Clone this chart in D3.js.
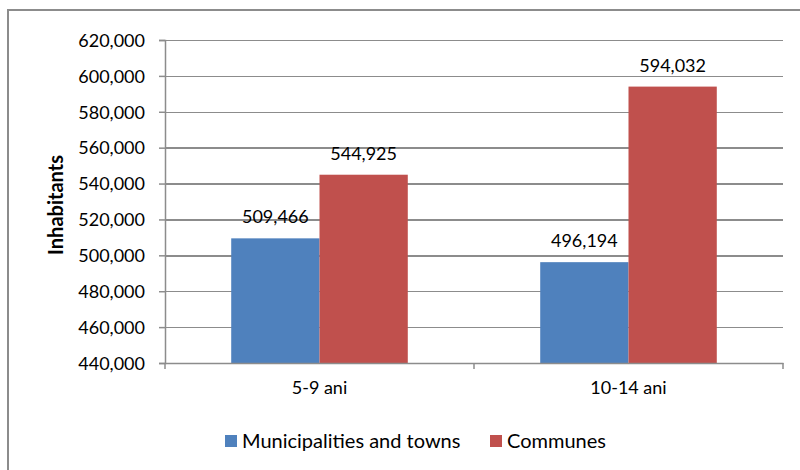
<!DOCTYPE html>
<html lang="en">
<head>
  <meta charset="UTF-8">
  <title>Inhabitants by age group</title>
  <script src="https://d3js.org/d3.v7.min.js"></script>
  <style>
    body { margin: 0; background: #fff; }
    text { font-family: Lato, "Open Sans", sans-serif; fill: #000; }
  </style>
</head>
<body>
  <svg width="800" height="470"></svg>
  <script>
    // Data
    const categories = ["5-9 ani", "10-14 ani"];
    const series = ["Municipalities and towns", "Communes"];
    const municipalities = [509466, 496194];
    const communes = [544925, 594032];
    const yTicks = [440000, 460000, 480000, 500000, 520000, 540000, 560000, 580000, 600000, 620000];
    const colors = ["#4F81BD", "#C0504D"];

    const values = [municipalities, communes];
    const svg = d3.select("svg");
    const margin = {top: 40, right: 17, bottom: 107, left: 165};
    const width = 800, height = 470;
    const fmt = d3.format(",");

    // Outer frame
    svg.append("rect")
       .attr("x", 8).attr("y", 10)
       .attr("width", 820).attr("height", 490)
       .attr("fill", "none")
       .attr("stroke", "#8c8c8c")
       .attr("stroke-width", 2);

    const x0 = d3.scaleBand()
                 .domain(categories)
                 .range([margin.left, width - margin.right]);

    const x1 = d3.scaleBand()
                 .domain(series)
                 .range([0, x0.bandwidth()])
                 .paddingInner(0)
                 .paddingOuter(0.75);

    const y = d3.scaleLinear()
                .domain([440000, 620000])
                .range([height - margin.bottom, margin.top]);

    // Grid horizontal
    svg.append("g")
       .attr("class", "grid")
       .attr("transform", `translate(${margin.left},0)`)
       .call(d3.axisLeft(y)
         .tickValues(yTicks)
         .tickSize(-(width - margin.left - margin.right))
         .tickFormat(""))
       .call(g => g.select(".domain").remove());

    // Bars
    const groups = svg.append("g")
       .selectAll("g")
       .data(categories)
       .join("g")
       .attr("transform", d => `translate(${x0(d)},0)`);

    groups.selectAll("rect")
       .data((c, i) => series.map((s, j) => ({s, j, v: values[j][i]})))
       .join("rect")
       .attr("x", d => x1(d.s))
       .attr("y", d => y(d.v))
       .attr("width", x1.bandwidth())
       .attr("height", d => y(440000) - y(d.v))
       .attr("fill", d => colors[d.j]);

    groups.selectAll("text.val")
       .data((c, i) => series.map((s, j) => ({s, j, v: values[j][i]})))
       .join("text")
       .attr("class", "val")
       .attr("x", d => x1(d.s) + x1.bandwidth() / 2)
       .attr("y", d => y(d.v) - 15)
       .attr("text-anchor", "middle")
       .style("font-size", "18px")
       .text(d => fmt(d.v));

    // Y axis
    const yAxis = svg.append("g")
       .attr("class", "axis")
       .attr("transform", `translate(${margin.left},0)`)
       .call(d3.axisLeft(y).tickValues(yTicks).tickSize(6).tickPadding(14).tickFormat(fmt));
    yAxis.selectAll("text").style("font-size", "18px").attr("dy", "0.35em");

    // X axis
    const xAxis = svg.append("g")
       .attr("class", "axis")
       .attr("transform", `translate(0,${height - margin.bottom})`)
       .call(d3.axisBottom(x0).tickSize(0).tickPadding(18));
    xAxis.selectAll("text").style("font-size", "18px");
    xAxis.selectAll(".sep")
       .data([margin.left, margin.left + x0.bandwidth(), width - margin.right])
       .join("line")
       .attr("class", "sep")
       .attr("x1", d => d).attr("x2", d => d)
       .attr("y1", 0).attr("y2", 6);

    // Y axis title
    svg.append("text")
       .attr("transform", "translate(63,205) rotate(-90)")
       .attr("text-anchor", "middle")
       .style("font-size", "20px")
       .style("font-weight", "bold")
       .text("Inhabitants");

    // Legend
    const legend = svg.append("g").attr("transform", "translate(225,441)");
    const offsets = [0, 265];
    series.forEach((s, i) => {
      const g = legend.append("g").attr("transform", `translate(${offsets[i]},0)`);
      g.append("rect").attr("x", 0).attr("y", -6).attr("width", 12).attr("height", 12).attr("fill", colors[i]);
      g.append("text").attr("x", 17).attr("y", 0).attr("dy", "0.35em")
       .style("font-size", "20px").text(s);
    });
  </script>
  <style>
    .grid line { stroke: #8c8c8c; stroke-width: 1.5; shape-rendering: crispEdges; }
    .axis path, .axis line { stroke: #8c8c8c; stroke-width: 1.5; }
    .axis text { fill: #000; }
  </style>
</body>
</html>
